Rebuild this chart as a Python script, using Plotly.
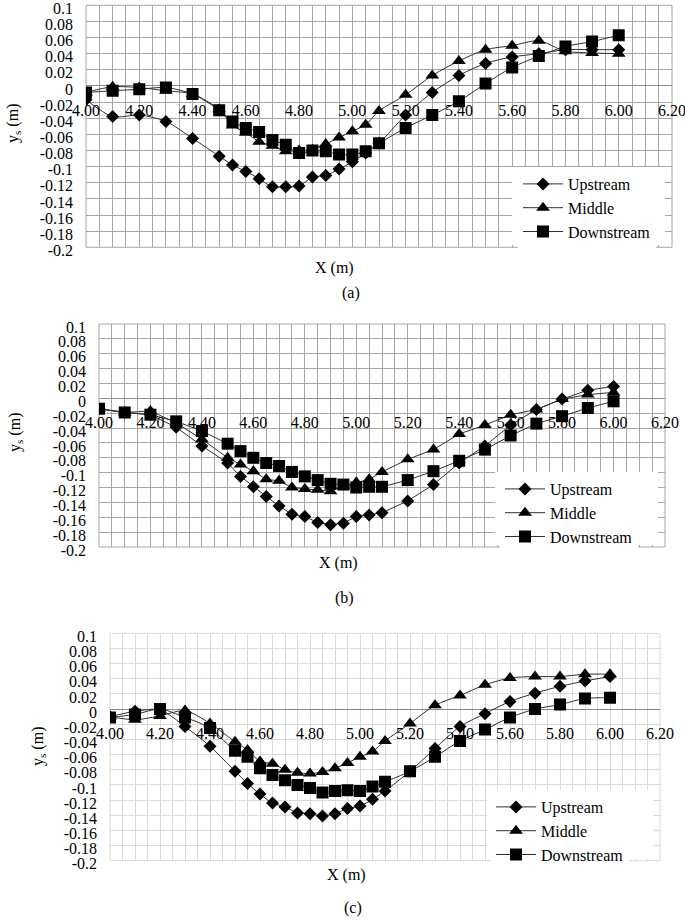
import plotly.graph_objects as go

# ---------------- data ----------------
x_vals = [4.00, 4.10, 4.20, 4.30, 4.40, 4.50, 4.55, 4.60, 4.65, 4.70, 4.75, 4.80, 4.85,
          4.90, 4.95, 5.00, 5.05, 5.10, 5.20, 5.30, 5.40, 5.50, 5.60, 5.70, 5.80, 5.90, 6.00]

a_upstream = [-0.017, -0.038, -0.036, -0.044, -0.065, -0.087, -0.098, -0.106, -0.115, -0.125, -0.125,
              -0.124, -0.113, -0.111, -0.103, -0.094, -0.083, -0.071, -0.036, -0.008, 0.013, 0.028,
              0.036, 0.040, 0.045, 0.045, 0.045]
a_middle = [-0.008, -0.001, -0.002, -0.006, -0.010, -0.029, -0.049, -0.058, -0.069, -0.074, -0.081,
            -0.080, -0.079, -0.072, -0.064, -0.056, -0.048, -0.031, -0.011, 0.013, 0.031, 0.045,
            0.050, 0.056, 0.043, 0.041, 0.040]
a_downstream = [-0.008, -0.006, -0.004, -0.002, -0.010, -0.030, -0.044, -0.052, -0.057, -0.067, -0.073,
                -0.083, -0.080, -0.081, -0.085, -0.085, -0.081, -0.071, -0.052, -0.036, -0.019, 0.003,
                0.023, 0.037, 0.049, 0.055, 0.063]

b_upstream = [-0.014, -0.019, -0.022, -0.039, -0.064, -0.087, -0.105, -0.119, -0.132, -0.145, -0.156,
              -0.159, -0.167, -0.170, -0.168, -0.159, -0.157, -0.154, -0.138, -0.116, -0.087, -0.064,
              -0.036, -0.015, -0.001, 0.011, 0.016]
b_middle = [-0.014, -0.019, -0.017, -0.033, -0.055, -0.080, -0.089, -0.098, -0.109, -0.111, -0.120,
            -0.122, -0.123, -0.125, -0.118, -0.113, -0.109, -0.099, -0.082, -0.069, -0.048, -0.036,
            -0.022, -0.015, -0.001, 0.005, 0.008]
b_downstream = [-0.014, -0.019, -0.022, -0.031, -0.044, -0.061, -0.071, -0.080, -0.087, -0.091, -0.099,
                -0.105, -0.110, -0.115, -0.116, -0.120, -0.119, -0.119, -0.110, -0.098, -0.084, -0.069,
                -0.050, -0.034, -0.024, -0.013, -0.004]

c_upstream = [-0.010, -0.003, -0.001, -0.023, -0.049, -0.082, -0.098, -0.112, -0.124, -0.129, -0.137,
              -0.138, -0.141, -0.138, -0.131, -0.128, -0.119, -0.108, -0.082, -0.052, -0.023, -0.006,
              0.010, 0.021, 0.030, 0.037, 0.043]
c_middle = [-0.010, -0.014, -0.009, -0.002, -0.019, -0.043, -0.054, -0.069, -0.072, -0.080, -0.084,
            -0.085, -0.083, -0.078, -0.071, -0.063, -0.056, -0.042, -0.019, 0.005, 0.018, 0.032,
            0.041, 0.043, 0.043, 0.046, 0.046]
c_downstream = [-0.011, -0.007, 0.000, -0.011, -0.025, -0.055, -0.063, -0.078, -0.087, -0.094, -0.100,
                -0.104, -0.110, -0.108, -0.107, -0.108, -0.102, -0.096, -0.082, -0.063, -0.042, -0.027,
                -0.011, 0.000, 0.006, 0.014, 0.015]

series_names = ["Upstream", "Middle", "Downstream"]
panel_captions = ["(a)", "(b)", "(c)"]

y_tickvals = [0.1, 0.08, 0.06, 0.04, 0.02, 0, -0.02, -0.04, -0.06, -0.08, -0.1,
              -0.12, -0.14, -0.16, -0.18, -0.2]
y_ticktext = ["0.1", "0.08", "0.06", "0.04", "0.02", "0", "-0.02", "-0.04", "-0.06", "-0.08", "-0.1",
              "-0.12", "-0.14", "-0.16", "-0.18", "-0.2"]
x_tickvals = [4.0, 4.2, 4.4, 4.6, 4.8, 5.0, 5.2, 5.4, 5.6, 5.8, 6.0, 6.2]
x_ticktext = ["4.00", "4.20", "4.40", "4.60", "4.80", "5.00", "5.20", "5.40", "5.60", "5.80", "6.00", "6.20"]

# ---------------- layout geometry (pixels) ----------------
W, H = 685, 920
FONT = "Liberation Serif"

panels = [
    dict(data=(a_upstream, a_middle, a_downstream), left=86, right=672, top=5.3, bottom=247.3,
         grid="#a6a6a6", zero="#8c8c8c", shape="spline",
         xtitle=(334, 268), cap=(351, 293), ytitle=(13, 124), leg=(518, 167),
         legbox=(512, 665, 167, 245)),
    dict(data=(b_upstream, b_middle, b_downstream), left=99, right=665, top=324, bottom=547,
         grid="#a6a6a6", zero="#8c8c8c", shape="linear",
         xtitle=(338, 563), cap=(344, 598), ytitle=(15, 433), leg=(500, 472),
         legbox=(495, 658, 472, 545)),
    dict(data=(c_upstream, c_middle, c_downstream), left=110, right=660, top=633.3, bottom=860.7,
         grid="#d9d9d9", zero="#868686", shape="spline",
         xtitle=(346, 875), cap=(353, 908), ytitle=(38, 747), leg=(491, 790),
         legbox=(487, 653, 790, 859)),
]

symbols = ["diamond", "triangle-up", "square"]
sizes = [10, 12, 12]

YMIN, YMAX = -0.2, 0.1

fig = go.Figure()
layout = dict(
    width=W, height=H,
    margin=dict(l=0, r=0, t=0, b=0, autoexpand=False),
    paper_bgcolor="white", plot_bgcolor="white",
    font=dict(family=FONT, size=16, color="black"),
    annotations=[], shapes=[],
)

for i, p in enumerate(panels):
    n = "" if i == 0 else str(i + 1)
    xa, ya = "x" + n, "y" + n
    leg = "legend" + n
    xdom = [p["left"] / W, p["right"] / W]
    ydom = [1 - p["bottom"] / H, 1 - p["top"] / H]
    zero_pos = ydom[0] + (ydom[1] - ydom[0]) * (0 - YMIN) / (YMAX - YMIN)

    for k in range(3):
        fig.add_trace(go.Scatter(
            x=x_vals, y=p["data"][k], name=series_names[k], mode="lines+markers",
            xaxis=xa, yaxis=ya, legend=leg,
            line=dict(color="#303030", width=1, shape=p["shape"], smoothing=0.8),
            marker=dict(symbol=symbols[k], size=sizes[k], color="black"),
        ))

    layout["xaxis" + n] = dict(
        domain=xdom, range=[4.0, 6.2], anchor="free", position=zero_pos,
        tickmode="array", tickvals=x_tickvals, ticktext=x_ticktext,
        showgrid=True, gridcolor=p["grid"], gridwidth=1,
        minor=dict(dtick=0.05, tick0=4.0, showgrid=True, gridcolor=p["grid"], gridwidth=1),
        zeroline=False, showline=False, ticks="", ticklabelstandoff=13,
        ticklabeloverflow="allow",
        tickfont=dict(family=FONT, size=16, color="black"),
        automargin=False, fixedrange=True,
    )
    layout["yaxis" + n] = dict(
        domain=ydom, range=[YMIN, YMAX], anchor=xa,
        tickmode="array", tickvals=y_tickvals, ticktext=y_ticktext,
        showgrid=True, gridcolor=p["grid"], gridwidth=1,
        zeroline=True, zerolinecolor=p["zero"], zerolinewidth=1,
        showline=False, ticks="", ticklabelstandoff=12, ticklabelshift=3,
        ticklabeloverflow="allow",
        tickfont=dict(family=FONT, size=16, color="black"),
        automargin=False, fixedrange=True,
    )
    layout[leg] = dict(
        x=p["leg"][0] / W, y=1 - p["leg"][1] / H, xanchor="left", yanchor="top",
        bgcolor="white", borderwidth=0, itemwidth=40,
        font=dict(family=FONT, size=16, color="black"),
    )
    # plot-area border
    layout["shapes"].append(dict(
        type="rect", xref=xa + " domain", yref=ya + " domain", x0=0, x1=1, y0=0, y1=1,
        line=dict(color=p["grid"], width=1), layer="below",
    ))
    # white legend box (as in the original chart)
    lb = p["legbox"]
    layout["shapes"].append(dict(
        type="rect", xref="paper", yref="paper",
        x0=lb[0] / W, x1=lb[1] / W, y0=1 - lb[3] / H, y1=1 - lb[2] / H,
        line=dict(width=0), fillcolor="white", layer="above",
    ))
    layout["annotations"] += [
        dict(text="X (m)", x=p["xtitle"][0] / W, y=1 - p["xtitle"][1] / H, xref="paper", yref="paper",
             showarrow=False, xanchor="center", yanchor="middle", font=dict(family=FONT, size=16)),
        dict(text=panel_captions[i], x=p["cap"][0] / W, y=1 - p["cap"][1] / H, xref="paper", yref="paper",
             showarrow=False, xanchor="center", yanchor="middle", font=dict(family=FONT, size=16)),
        dict(text="y<sub>s</sub> (m)", x=p["ytitle"][0] / W, y=1 - p["ytitle"][1] / H, xref="paper",
             yref="paper", showarrow=False, textangle=-90, xanchor="center", yanchor="middle",
             font=dict(family=FONT, size=16)),
    ]

fig.update_layout(**layout)
fig.write_html("out.html", config={"displayModeBar": False},
               post_script="document.body.style.margin='0';document.body.style.overflow='hidden';")
